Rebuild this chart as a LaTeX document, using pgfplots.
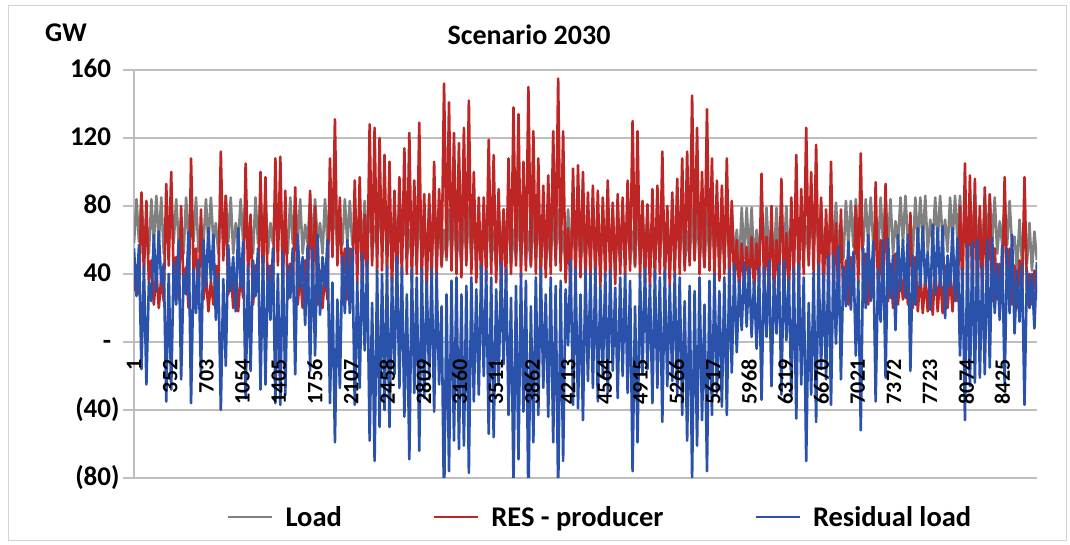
\documentclass[border=0pt]{standalone}
\usepackage{fontspec}
\setmainfont{Carlito}
\usepackage{pgfplots}
\usepackage{pgfplotstable}
\pgfplotsset{compat=1.18}
\definecolor{loadgray}{RGB}{128,128,128}
\definecolor{resred}{RGB}{190,38,38}
\definecolor{resblue}{RGB}{42,82,170}
\definecolor{gridgray}{RGB}{190,190,190}
\pgfplotsset{
  basegeom/.style={
    at={(134bp,67bp)}, anchor=south west,
    scale only axis, width=903bp, height=408bp,
    xmin=1, xmax=8760, ymin=-80, ymax=160,
  },
}

\pgfplotstableread{
L R D
58 30 55
84 45 27
59 28 57
85 88 -16
58 40 45
70 83 -25
52 35 35
84 48 24
58 22 63
86 42 30
59 20 65
85 38 34
52 24 46
70 93 -35
57 45 40
85 100 -28
58 38 47
84 50 22
59 25 60
71 80 -22
52 30 40
85 44 28
58 20 65
86 108 -36
59 42 43
85 55 17
53 22 48
70 78 -20
58 25 60
84 40 32
58 18 67
85 36 36
59 22 63
70 45 13
52 30 40
85 112 -40
58 48 37
86 86 -14
59 28 57
85 42 30
52 20 50
70 40 18
58 18 67
84 40 32
59 26 59
85 105 -33
58 40 45
70 75 -17
52 22 48
85 45 27
58 30 55
84 100 -28
59 35 50
86 97 -25
52 25 45
70 45 13
58 30 55
85 108 -36
59 45 40
84 109 -37
58 32 53
70 89 -31
52 25 45
85 46 26
58 30 55
85 91 -19
59 22 63
84 40 32
52 20 50
69 48 10
58 28 57
85 89 -17
58 30 55
84 80 -8
59 22 63
70 42 16
52 20 50
84 40 32
58 25 60
85 108 -36
58 50 35
84 131 -59
52 45 25
69 85 -27
57 35 50
84 55 17
58 25 60
83 55 17
57 30 55
68 95 -37
51 35 35
82 97 -27
56 30 52
83 75 -5
56 35 47
82 128 -58
50 45 23
68 126 -70
55 40 42
82 120 -50
56 42 40
81 110 -40
55 38 44
67 106 -50
50 30 38
81 89 -19
55 32 50
80 97 -27
54 38 44
80 114 -44
49 40 28
66 123 -69
48 35 43
78 95 -30
48 40 38
79 129 -64
49 35 43
66 87 -33
44 30 36
78 87 -22
48 35 43
78 106 -41
48 38 40
77 90 -25
44 45 21
66 152 -98
48 50 28
78 141 -76
49 42 36
78 123 -58
48 40 38
65 117 -63
44 38 28
78 126 -61
48 45 33
79 142 -77
48 40 38
78 100 -35
44 35 31
66 85 -31
48 33 45
78 85 -20
48 36 42
77 119 -54
48 40 38
65 110 -56
44 35 31
78 90 -25
48 32 46
78 78 -13
49 35 43
78 108 -43
44 40 26
66 138 -84
48 45 33
78 134 -69
48 38 40
77 106 -41
48 42 36
65 150 -96
44 45 21
78 124 -59
48 40 38
78 108 -43
48 35 43
77 92 -27
44 38 28
65 98 -44
48 40 38
78 124 -59
48 45 33
78 155 -90
48 42 36
65 124 -70
44 35 31
78 67 -2
48 30 48
78 102 -37
48 35 43
77 104 -39
44 38 28
65 100 -46
48 36 42
78 88 -23
48 38 40
78 92 -27
48 35 43
65 89 -35
44 33 33
78 85 -20
48 38 40
78 95 -30
48 36 42
77 82 -17
44 34 32
65 87 -33
48 40 38
78 85 -20
48 38 40
78 95 -30
48 42 36
65 130 -76
44 45 21
78 124 -59
48 38 40
78 83 -18
48 35 43
77 81 -16
44 32 34
65 90 -36
48 36 42
78 92 -27
48 40 38
78 112 -47
48 36 42
65 80 -26
44 33 33
78 88 -23
48 38 40
78 96 -31
48 40 38
77 108 -43
44 42 24
65 112 -58
48 45 33
78 145 -80
48 48 30
78 126 -61
48 40 38
65 100 -46
44 44 22
78 137 -76
48 42 36
78 108 -43
48 38 40
77 95 -30
45 36 30
66 92 -38
49 40 38
78 108 -43
49 35 43
79 83 -18
49 32 46
66 60 -6
45 30 36
79 58 7
49 32 46
79 56 9
50 34 44
79 62 3
45 30 36
66 58 -4
50 35 43
79 99 -34
50 34 44
79 62 3
50 30 48
67 80 -26
46 28 38
79 60 5
51 32 46
80 96 -31
51 30 48
80 64 1
46 28 38
67 85 -31
52 35 43
80 110 -45
52 32 46
80 90 -25
52 40 38
68 126 -70
48 45 23
81 100 -31
54 40 41
81 116 -47
54 35 46
82 85 -16
48 28 40
68 78 -22
55 30 51
82 106 -37
55 30 51
82 70 -1
55 25 56
69 78 -22
49 24 44
83 48 21
56 22 59
83 50 19
56 28 53
84 80 -8
52 35 36
71 111 -52
57 30 55
84 52 20
58 22 63
85 48 24
58 26 59
71 94 -35
52 28 43
85 60 12
58 25 60
85 93 -21
58 24 61
84 46 26
52 20 51
71 52 7
58 22 63
85 42 30
58 25 60
86 46 26
59 22 63
71 76 -17
52 20 51
85 50 22
58 18 67
85 40 32
59 17 68
86 38 34
53 18 53
72 40 19
58 16 69
85 44 28
59 18 67
86 40 32
59 17 68
72 45 14
53 20 51
85 40 32
59 18 67
86 48 24
59 24 61
86 80 -8
53 28 43
72 105 -46
59 28 57
86 98 -26
59 26 59
86 96 -24
59 25 60
72 80 -21
53 26 45
86 91 -19
59 25 60
86 87 -15
59 24 61
85 55 17
52 25 46
71 46 13
58 28 57
84 97 -25
57 30 55
83 55 17
56 22 63
62 45 5
42 20 42
72 48 12
46 26 46
72 97 -37
46 30 42
70 40 20
42 22 40
65 42 8
48 25 47
}\datatable

\begin{document}
\begin{tikzpicture}
\useasboundingbox (0,0) rectangle (1070bp,545bp);
\draw[gridgray!70, line width=0.8bp] (8bp,5bp) rectangle (1066bp,540bp);
\node[font=\fontsize{28bp}{30bp}\selectfont\bfseries] at (529bp,510bp) {Scenario 2030};
\node[font=\fontsize{27bp}{29bp}\selectfont\bfseries] at (66bp,512bp) {GW};
\begin{axis}[
  basegeom,
  axis x line=middle, axis y line=left,
  axis line style={-, draw=gridgray, line width=1.2bp},
  ytick={-80,-40,0,40,80,120,160},
  yticklabels={(80),(40),{-\phantom{)}},40\phantom{)},80\phantom{)},120\phantom{)},160\phantom{)}},
  ymajorgrids, grid style={draw=gridgray, line width=1.2bp},
  xtick=\empty,
  ytick style={draw=gridgray, line width=1.2bp},
  ytick align=outside, major tick length=11bp,
  yticklabel style={font=\fontsize{27bp}{29bp}\selectfont\bfseries, anchor=east},
  no markers,
  every axis plot/.append style={line width=2.6bp, line join=round},
  legend style={at={(axis description cs:0.0996,-0.096)}, anchor=west, draw=none, fill=none,
    legend columns=3, font=\fontsize{28.5bp}{30bp}\selectfont\bfseries,
    /tikz/every odd column/.append style={column sep=10bp},
    /tikz/every even column/.append style={column sep=89bp}},
  legend image code/.code={\draw[#1, line width=2.5bp] (0bp,0bp) -- (44bp,0bp);},
]
\addplot[loadgray] table[x expr=\coordindex*24.06+1, y=L]{\datatable};
\addlegendentry{Load}
\addplot[resred] table[x expr=\coordindex*24.06+1, y=R]{\datatable};
\addlegendentry{RES - producer}
\addplot[resblue] table[x expr=\coordindex*24.06+1, y=D]{\datatable};
\addlegendentry{Residual load}
\end{axis}
\begin{axis}[
  basegeom,
  axis x line=middle, axis y line=none,
  x axis line style={draw=none},
  ytick=\empty,
  hide obscured x ticks=false,
  xtick={1,352,...,8425},
  xticklabels={1,352,703,1054,1405,1756,2107,2458,2809,3160,3511,3862,4213,4564,4915,5266,5617,5968,6319,6670,7021,7372,7723,8074,8425},
  xtick style={draw=none},
  xticklabel style={font=\fontsize{22bp}{23bp}\selectfont\bfseries, rotate=90, anchor=east, xshift=-12bp},
]
\end{axis}
\end{tikzpicture}
\end{document}
